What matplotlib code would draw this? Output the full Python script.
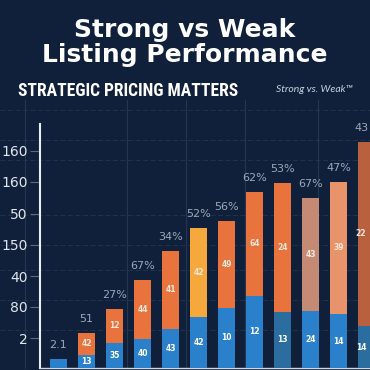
import matplotlib
matplotlib.use("Agg")
import matplotlib.pyplot as plt
from matplotlib import font_manager as fm
import numpy as np

# ---- data ----
top_labels = ["2.1", "51", "27%", "67%", "34%", "52%", "56%", "62%", "53%", "67%", "47%", "43"]
weak_vals = [0, 22, 34, 59, 78, 89, 87, 104, 129, 113, 132, 184]     # upper segment
strong_vals = [9, 13, 25, 29, 39, 51, 60, 72, 56, 57, 54, 42]        # lower (blue) segment
weak_text = ["", "42", "12", "44", "41", "42", "49", "64", "24", "43", "39", "22"]
strong_text = ["", "13", "35", "40", "43", "42", "10", "12", "13", "24", "14", "14"]
ytick_vals = [30, 61, 92, 123, 154, 186, 217]
ytick_labels = ["2", "80", "40", "150", "50", "160", "160"]

# ---- styles ----
BG = "#10203a"
weak_colors = ["#e8733d", "#e8733d", "#e8733d", "#e8733d", "#e8733d", "#f5a83c",
               "#e8733d", "#e8733d", "#e8733d", "#c48a74", "#e9936b", "#b9603f"]
strong_colors = ["#2b80cc"] * 8 + ["#2a6d9e", "#2b80cc", "#2b80cc", "#2a6d9e"]


def condensed_bold():
    prefs = ["LiberationSansNarrow-Bold", "RobotoCondensed-Bold", "DejaVuSansCondensed-Bold",
             "OpenSans_Condensed-Bold", "OpenSansCondensed-Bold"]
    files = [f.fname for f in fm.fontManager.ttflist]
    for p in prefs:
        for fn in files:
            if p.lower() in fn.lower().replace(" ", ""):
                return fm.FontProperties(fname=fn)
    return fm.FontProperties(family="DejaVu Sans", weight="bold")


fig = plt.figure(figsize=(3.7, 3.7), dpi=100, facecolor=BG)

# background decoration (faint grid)
bg = fig.add_axes([0, 0, 1, 1], zorder=0)
bg.set_facecolor(BG)
bg.set_xlim(0, 370)
bg.set_ylim(370, 0)
bg.axis("off")
for yy in [110, 140, 160, 215, 245, 270, 300, 330]:
    bg.plot([0, 370], [yy, yy], color="#2a3d57", lw=0.6, ls=(0, (6, 3)), alpha=0.7)
for xx in [25, 127, 186, 245, 318]:
    bg.plot([xx, xx], [100, 368], color="#2a3d57", lw=0.8, alpha=0.8)

ax = fig.add_axes([40 / 370, 2 / 370, 330 / 370, 244 / 370], zorder=2)
ax.set_facecolor("none")
x = np.arange(len(top_labels))
w = 0.59
xmax = -0.66 + 330 / 28
ax.bar(x, strong_vals, width=w, color=strong_colors, zorder=3)
ax.bar(x, weak_vals, width=w, bottom=strong_vals, color=weak_colors, zorder=3)

for i in x:
    s, t = strong_vals[i], weak_vals[i]
    tx = min(i, xmax - 0.32)
    if strong_text[i]:
        ax.text(tx, s / 2, strong_text[i], ha="center", va="center", color="white",
                fontsize=5.5, fontweight="bold", zorder=4)
    if weak_text[i]:
        ax.text(tx, s + t / 2, weak_text[i], ha="center", va="center", color="#f3e6dc",
                fontsize=5.5, fontweight="bold", zorder=4)
    ax.annotate(top_labels[i], (tx, s + t), xytext=(0, 10), textcoords="offset points",
                ha="center", va="center", color="#9aa8ba", fontsize=8, zorder=4)

ax.set_xlim(-0.66, xmax)
ax.set_ylim(0, 244)
ax.set_yticks(ytick_vals)
ax.set_yticklabels(ytick_labels, color="#dfe6ee", fontsize=10)
ax.tick_params(axis="y", length=7, color="#5a6a80", pad=2)
ax.set_xticks([])
for sp in ["top", "right"]:
    ax.spines[sp].set_visible(False)
ax.spines["left"].set_color("#e8eef5")
ax.spines["left"].set_linewidth(1.5)
ax.spines["bottom"].set_color("#cfd8e3")
ax.spines["bottom"].set_linewidth(1.0)

# titles
fig.text(0.5, 1 - 30 / 370, "Strong vs Weak", ha="center", va="center", color="white",
         fontsize=18, fontweight="bold", family=["DejaVu Sans"])
fig.text(0.5, 1 - 55 / 370, "Listing Performance", ha="center", va="center", color="white",
         fontsize=18, fontweight="bold", family=["DejaVu Sans"])
sub = fig.text(18 / 370, 1 - 91 / 370, "STRATEGIC PRICING MATTERS", ha="left", va="center",
               color="white", fontproperties=condensed_bold())
sub.set_fontsize(14)
fig.canvas.draw()
wpx = sub.get_window_extent().width
sub.set_fontsize(14 * 222 / wpx)
fig.text(353 / 370, 1 - 89 / 370, "Strong vs. Weak\u2122", ha="right", va="center",
         color="#c9d3de", fontsize=7.5, style="italic", family=["Lato", "DejaVu Sans"])

fig.savefig("out.png", dpi=100, facecolor=BG)
